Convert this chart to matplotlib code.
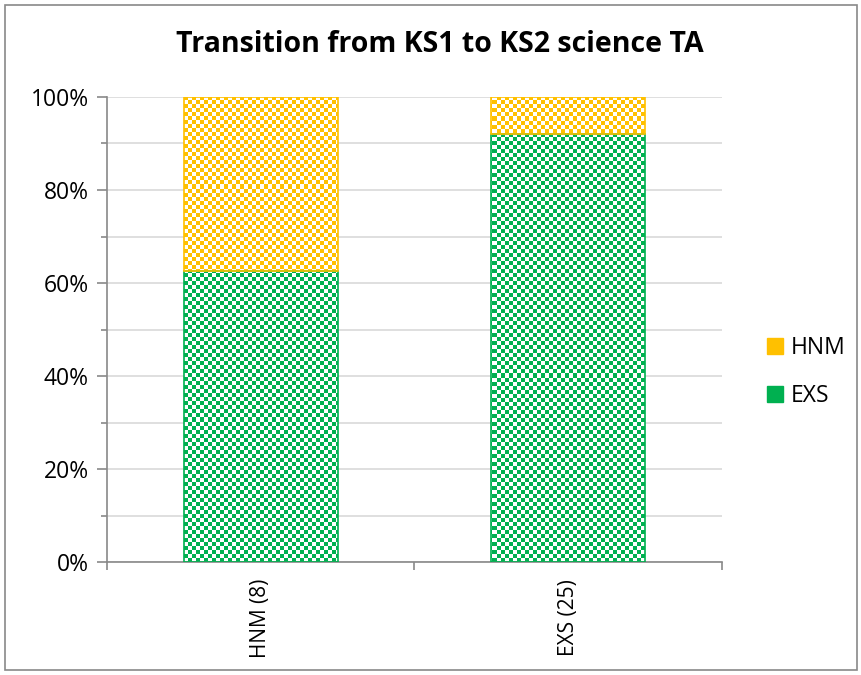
import numpy as np
import matplotlib.pyplot as plt
from matplotlib.patches import Patch, Rectangle
from matplotlib.ticker import MultipleLocator, PercentFormatter

plt.rcParams['font.family'] = ['Open Sans', 'DejaVu Sans']

categories = ["HNM (8)", "EXS (25)"]
exs_share = [62.5, 92.0]
hnm_share = [37.5, 8.0]

green = "#00B050"
yellow = "#FFC000"

W, H = 862, 675
fig = plt.figure(figsize=(W / 100, H / 100), dpi=100)

left, right, top, bottom = 107, 722, 97, 562
ax = fig.add_axes([left / W, 1 - bottom / H, (right - left) / W, (bottom - top) / H])

x = np.arange(len(categories))
bars_exs = ax.bar(x, exs_share, width=0.5, color="none", edgecolor=green, linewidth=1.2, zorder=3)
bars_hnm = ax.bar(x, hnm_share, width=0.5, bottom=exs_share, color="none",
                  edgecolor=yellow, linewidth=1.2, zorder=3)

xlim = (-0.5, len(categories) - 0.5)
ylim = (0, 100)

# checkerboard fill, roughly 4 px squares
cell = 4
nx = (right - left) // cell
ny = (bottom - top) // cell
checker = np.add.outer(np.arange(ny), np.arange(nx)) % 2


def checker_image(color):
    rgb = np.array(plt.matplotlib.colors.to_rgb(color))
    img = np.ones((ny, nx, 3))
    img[checker == 1] = rgb
    return img


for bars, color in [(bars_exs, green), (bars_hnm, yellow)]:
    img = checker_image(color)
    for b in bars:
        im = ax.imshow(img, extent=(xlim[0], xlim[1], ylim[0], ylim[1]), aspect="auto",
                       interpolation="nearest", zorder=2)
        im.set_clip_path(b)

ax.set_xlim(*xlim)
ax.set_ylim(*ylim)

ax.yaxis.set_major_locator(MultipleLocator(20))
ax.yaxis.set_minor_locator(MultipleLocator(10))
ax.yaxis.set_major_formatter(PercentFormatter(decimals=0))
ax.grid(axis="y", which="both", color="#D9D9D9", linewidth=1.2, zorder=0)
ax.set_axisbelow(True)

ax.set_xticks(x)
ax.set_xticklabels(categories, rotation=90, va="top", ha="center")
ax.tick_params(axis="x", length=0, pad=12, labelsize=15)
# category boundary ticks
ax.set_xticks(np.arange(len(categories) + 1) - 0.5, minor=True)
ax.tick_params(axis="x", which="minor", length=6, color="#898989", width=1.2)
ax.tick_params(axis="y", which="major", length=7, color="#898989", width=1.2, labelsize=16.5, pad=6)
ax.tick_params(axis="y", which="minor", length=4, color="#898989", width=1.2)

for s in ["top", "right"]:
    ax.spines[s].set_visible(False)
for s in ["left", "bottom"]:
    ax.spines[s].set_color("#898989")
    ax.spines[s].set_linewidth(1.2)

fig.text(440 / W, 1 - 45 / H, "Transition from KS1 to KS2 science TA", ha="center", va="center",
         fontsize=20.5, fontweight="bold")

handles = [Patch(facecolor=yellow, edgecolor=yellow), Patch(facecolor=green, edgecolor=green)]
fig.legend(handles, ["HNM", "EXS"], loc="center left", bbox_to_anchor=(746 / W, 1 - 372 / H),
           frameon=False, fontsize=16.5, handlelength=0.7, handleheight=0.7, handletextpad=0.35,
           labelspacing=1.05)

fig.patches.append(Rectangle((5 / W, 5 / H), 852 / W, 665 / H, transform=fig.transFigure,
                             fill=False, edgecolor="#898989", linewidth=1.2))

fig.savefig("out.png", dpi=100, facecolor="white")
